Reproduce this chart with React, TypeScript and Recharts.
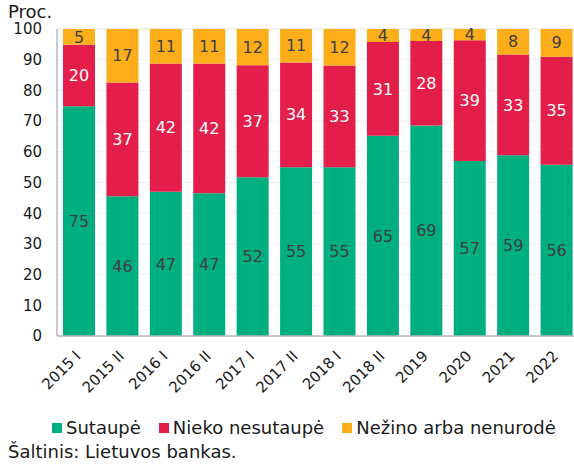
import React from 'react';
import { BarChart, Bar, XAxis, YAxis, CartesianGrid, Legend, LabelList } from 'recharts';

const periods = ['2015 I', '2015 II', '2016 I', '2016 II', '2017 I', '2017 II', '2018 I', '2018 II', '2019', '2020', '2021', '2022'];
const saved = [74.8, 45.5, 47.0, 46.5, 51.7, 55.0, 55.0, 65.2, 68.6, 57.0, 58.9, 55.8];
const notSaved = [20.1, 37.1, 41.8, 42.3, 36.5, 34.1, 33.1, 30.6, 27.5, 39.3, 32.8, 35.2];
const unknown = [5.1, 17.4, 11.2, 11.2, 11.8, 10.9, 11.9, 4.2, 3.9, 3.7, 8.3, 9.0];
const seriesNames = ['Sutaupė', 'Nieko nesutaupė', 'Nežino arba nenurodė'];
const yTicks = [0, 10, 20, 30, 40, 50, 60, 70, 80, 90, 100];

const FONT = '"DejaVu Sans", Verdana, sans-serif';
const GREEN = '#00AF7F';
const RED = '#E31E4A';
const ORANGE = '#FBAE19';

const data = periods.map((p, i) => ({
    period: p,
    saved: saved[i],
    notSaved: notSaved[i],
    unknown: unknown[i],
}));

const round = (v: any) => Math.round(Number(v));

// rotated category labels
const AngledTick = ({ x, y, payload }: any) => (
    <text
        x={x + 3}
        y={y + 13}
        transform={`rotate(-45, ${x + 3}, ${y + 13})`}
        textAnchor="end"
        fill="#1a1a1a"
        fontSize={15}
        fontFamily={FONT}
    >
        {payload.value}
    </text>
);

// legend in series order (recharts reverses stacked bars)
const renderLegend = (props: any) => {
    const payload = [...(props.payload || [])].sort(
        (a: any, b: any) => seriesNames.indexOf(a.value) - seriesNames.indexOf(b.value)
    );
    return (
        <div style={{ display: 'flex', alignItems: 'center', gap: 18, paddingLeft: 52, fontFamily: FONT, fontSize: 18, color: '#1a1a1a', lineHeight: 'normal' }}>
            {payload.map((entry: any) => (
                <div key={entry.value} style={{ display: 'flex', alignItems: 'center' }}>
                    <span style={{ display: 'inline-block', width: 10, height: 10, background: entry.color, marginRight: 4 }} />
                    <span>{entry.value}</span>
                </div>
            ))}
        </div>
    );
};

export default function App() {
    return (
        <div style={{ position: 'fixed', left: 0, top: 0, width: 574, height: 466, overflow: 'hidden', background: '#fff' }}>
            <div style={{ position: 'absolute', left: 8, top: 6, fontFamily: FONT, fontSize: 18, color: '#1a1a1a', lineHeight: '12px' }}>
                Proc.
            </div>
            <BarChart
                width={580}
                height={466}
                data={data}
                margin={{ top: 29, right: 2, left: 0, bottom: 0 }}
                barSize={32}
            >
                <CartesianGrid vertical={false} stroke="#ededed" />
                <XAxis
                    dataKey="period"
                    height={130}
                    interval={0}
                    tick={<AngledTick />}
                    tickLine={false}
                    axisLine={{ stroke: '#b8b8b8', strokeWidth: 1.5 }}
                />
                <YAxis
                    width={57}
                    domain={[0, 100]}
                    ticks={yTicks}
                    interval={0}
                    tickLine={false}
                    tickMargin={9}
                    axisLine={{ stroke: '#b8b8b8', strokeWidth: 1.5 }}
                    tick={{ fontSize: 15, fill: '#1a1a1a', fontFamily: FONT }}
                />
                <Legend
                    verticalAlign="middle"
                    align="center"
                    layout="horizontal"
                    content={renderLegend}
                    wrapperStyle={{ top: 417, left: 0, width: 574 }}
                />
                <Bar dataKey="saved" name={seriesNames[0]} stackId="a" fill={GREEN} isAnimationActive={false}>
                    <LabelList dataKey="saved" position="center" formatter={round} fill="#404040" fontSize={16} fontFamily={FONT} />
                </Bar>
                <Bar dataKey="notSaved" name={seriesNames[1]} stackId="a" fill={RED} isAnimationActive={false}>
                    <LabelList dataKey="notSaved" position="center" formatter={round} fill="#ffffff" fontSize={16} fontFamily={FONT} />
                </Bar>
                <Bar dataKey="unknown" name={seriesNames[2]} stackId="a" fill={ORANGE} isAnimationActive={false}>
                    <LabelList dataKey="unknown" position="center" formatter={round} fill="#404040" fontSize={16} fontFamily={FONT} />
                </Bar>
            </BarChart>
            <div style={{ position: 'absolute', left: 8, top: 441, fontFamily: FONT, fontSize: 18, color: '#1a1a1a', lineHeight: 'normal' }}>
                Šaltinis: Lietuvos bankas.
            </div>
        </div>
    );
}
